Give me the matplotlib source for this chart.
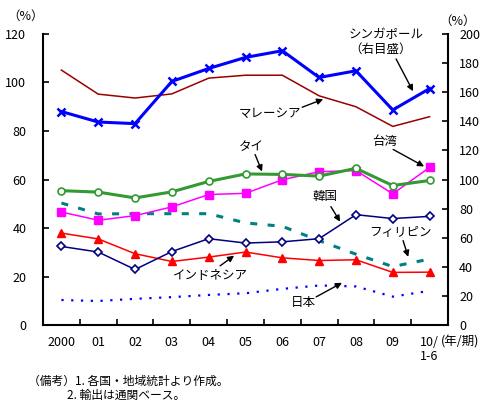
import matplotlib
matplotlib.use("Agg")
import matplotlib.pyplot as plt

plt.rcParams['font.family'] = ['Noto Sans CJK JP', 'DejaVu Sans']

categories = ["2000", "01", "02", "03", "04", "05", "06", "07", "08", "09", "10/\n1-6"]

singapore = [146.7, 139.5, 138.4, 167.4, 176.3, 183.9, 188.5, 170.1, 174.7, 147.8, 162.5]  # right axis
malaysia = [105.1, 95.2, 93.6, 95.3, 101.8, 103.0, 103.0, 94.5, 90.0, 81.9, 85.9]
thailand = [55.4, 54.8, 52.4, 54.9, 59.2, 62.3, 62.1, 61.4, 64.6, 57.5, 59.6]
taiwan = [46.6, 43.2, 45.1, 48.7, 53.8, 54.3, 59.9, 63.2, 63.7, 54.1, 65.0]
philippines = [50.3, 45.8, 45.9, 45.9, 45.9, 42.1, 40.7, 34.8, 29.2, 24.1, 27.2]
korea = [32.4, 30.1, 22.9, 30.3, 35.6, 33.8, 34.3, 35.6, 45.5, 43.9, 44.8]
indonesia = [37.9, 35.5, 29.4, 26.2, 28.0, 30.1, 27.7, 26.6, 26.9, 21.7, 21.8]
japan = [10.3, 9.9, 10.8, 11.5, 12.4, 13.1, 14.9, 16.3, 15.9, 11.7, 14.1]

left_ticks = [0, 20, 40, 60, 80, 100, 120]
right_ticks = [0, 20, 40, 60, 80, 100, 120, 140, 160, 180, 200]

fig = plt.figure(figsize=(5.0, 4.11), dpi=100)
ax = fig.add_axes([0.086, 0.2092, 0.81, 0.7081])
ax2 = ax.twinx()

x = list(range(len(categories)))

ax.plot(x, malaysia, color='#990000', lw=1.1, zorder=3)
ax.plot(x, philippines, color='#008080', lw=2.2, dashes=(2.3, 3.4), zorder=3)
ax.plot(x, japan, color='#0000FF', lw=1.6, dashes=(1, 3.4), zorder=3)
ax.plot(x, indonesia, color='#FF0000', lw=1.1, marker='^', ms=6, zorder=4)
ax.plot(x, korea, color='#000080', lw=1.1, marker='D', ms=4.2, mfc='white', mew=1.2, zorder=4)
ax.plot(x, taiwan, color='#FF00FF', lw=1.1, marker='s', ms=5.5, zorder=4)
ax.plot(x, thailand, color='#339933', lw=2.2, marker='o', ms=5, mfc='white', mew=1.2, zorder=5)
ax2.plot(x, singapore, color='#0000FF', lw=2.2, marker='x', ms=5.5, mew=1.8, zorder=5)

ax.set_xlim(-0.5, len(categories) - 0.5)
ax.set_ylim(0, 120)
ax2.set_ylim(0, 200)
ax.set_yticks(left_ticks)
ax2.set_yticks(right_ticks)
ax.set_xticks(x)
ax.set_xticklabels(categories, fontsize=9, linespacing=1.1, va='top')
ax.set_xticks([i - 0.5 for i in range(1, len(categories))], minor=True)
ax.tick_params(axis='x', which='major', length=0, pad=8)
ax.tick_params(axis='x', which='minor', direction='in', length=4, width=1.2)
ax.tick_params(axis='y', direction='in', length=4, width=1.2, labelsize=9, pad=12)
ax2.tick_params(axis='y', direction='in', length=4, width=1.2, labelsize=9, pad=8)

for a in (ax, ax2):
    a.spines['top'].set_visible(False)
    for s in ('left', 'right', 'bottom'):
        a.spines[s].set_linewidth(1.5)
        a.spines[s].set_color('black')
ax.spines['right'].set_visible(False)
ax2.spines['left'].set_visible(False)
ax2.spines['bottom'].set_visible(False)

fig.text(26 / 500, 1 - 16 / 411, "（%）", fontsize=9, ha='center', va='center')
fig.text(458 / 500, 1 - 21 / 411, "（%）", fontsize=9, ha='center', va='center')
fig.text(441 / 500, 1 - 342 / 411, "(年/期)", fontsize=9, ha='left', va='center')

fig.text(28 / 500, 1 - 381 / 411, "（備考）1. 各国・地域統計より作成。", fontsize=8.5, ha='left', va='center')
fig.text(67 / 500, 1 - 395 / 411, "2. 輸出は通関ベース。", fontsize=8.5, ha='left', va='center')

arrow = dict(arrowstyle='-|>', color='black', lw=1.0, mutation_scale=9, shrinkA=0, shrinkB=0)

def note(text, tx, ty, ax0, ay0, ax1, ay1):
    ax.text(tx, ty, text, fontsize=9, ha='center', va='center', zorder=6)
    ax.annotate('', xy=(ax1, ay1), xytext=(ax0, ay0), arrowprops=arrow, zorder=6)

ax.text(8.82, 119.6, "シンガポール", fontsize=9, ha='center', va='center')
ax.text(8.66, 113.8, "（右目盛）", fontsize=9, ha='center', va='center')
ax.annotate('', xy=(9.55, 96.4), xytext=(9.09, 109.7), arrowprops=arrow)
note("マレーシア", 5.67, 87.3, 6.54, 89.8, 7.11, 93.1)
note("タイ", 5.15, 73.7, 5.26, 70.3, 5.45, 63.3)
note("台湾", 8.79, 75.7, 9.01, 72.4, 9.85, 65.4)
note("韓国", 7.16, 53.0, 7.32, 48.8, 7.57, 42.6)
note("フィリピン", 9.20, 38.1, 9.28, 34.8, 9.42, 28.1)
note("インドネシア", 4.04, 20.3, 4.31, 24.4, 4.69, 28.6)
note("日本", 6.57, 9.1, 6.92, 11.6, 7.62, 17.4)

fig.savefig("out.png", dpi=100)
